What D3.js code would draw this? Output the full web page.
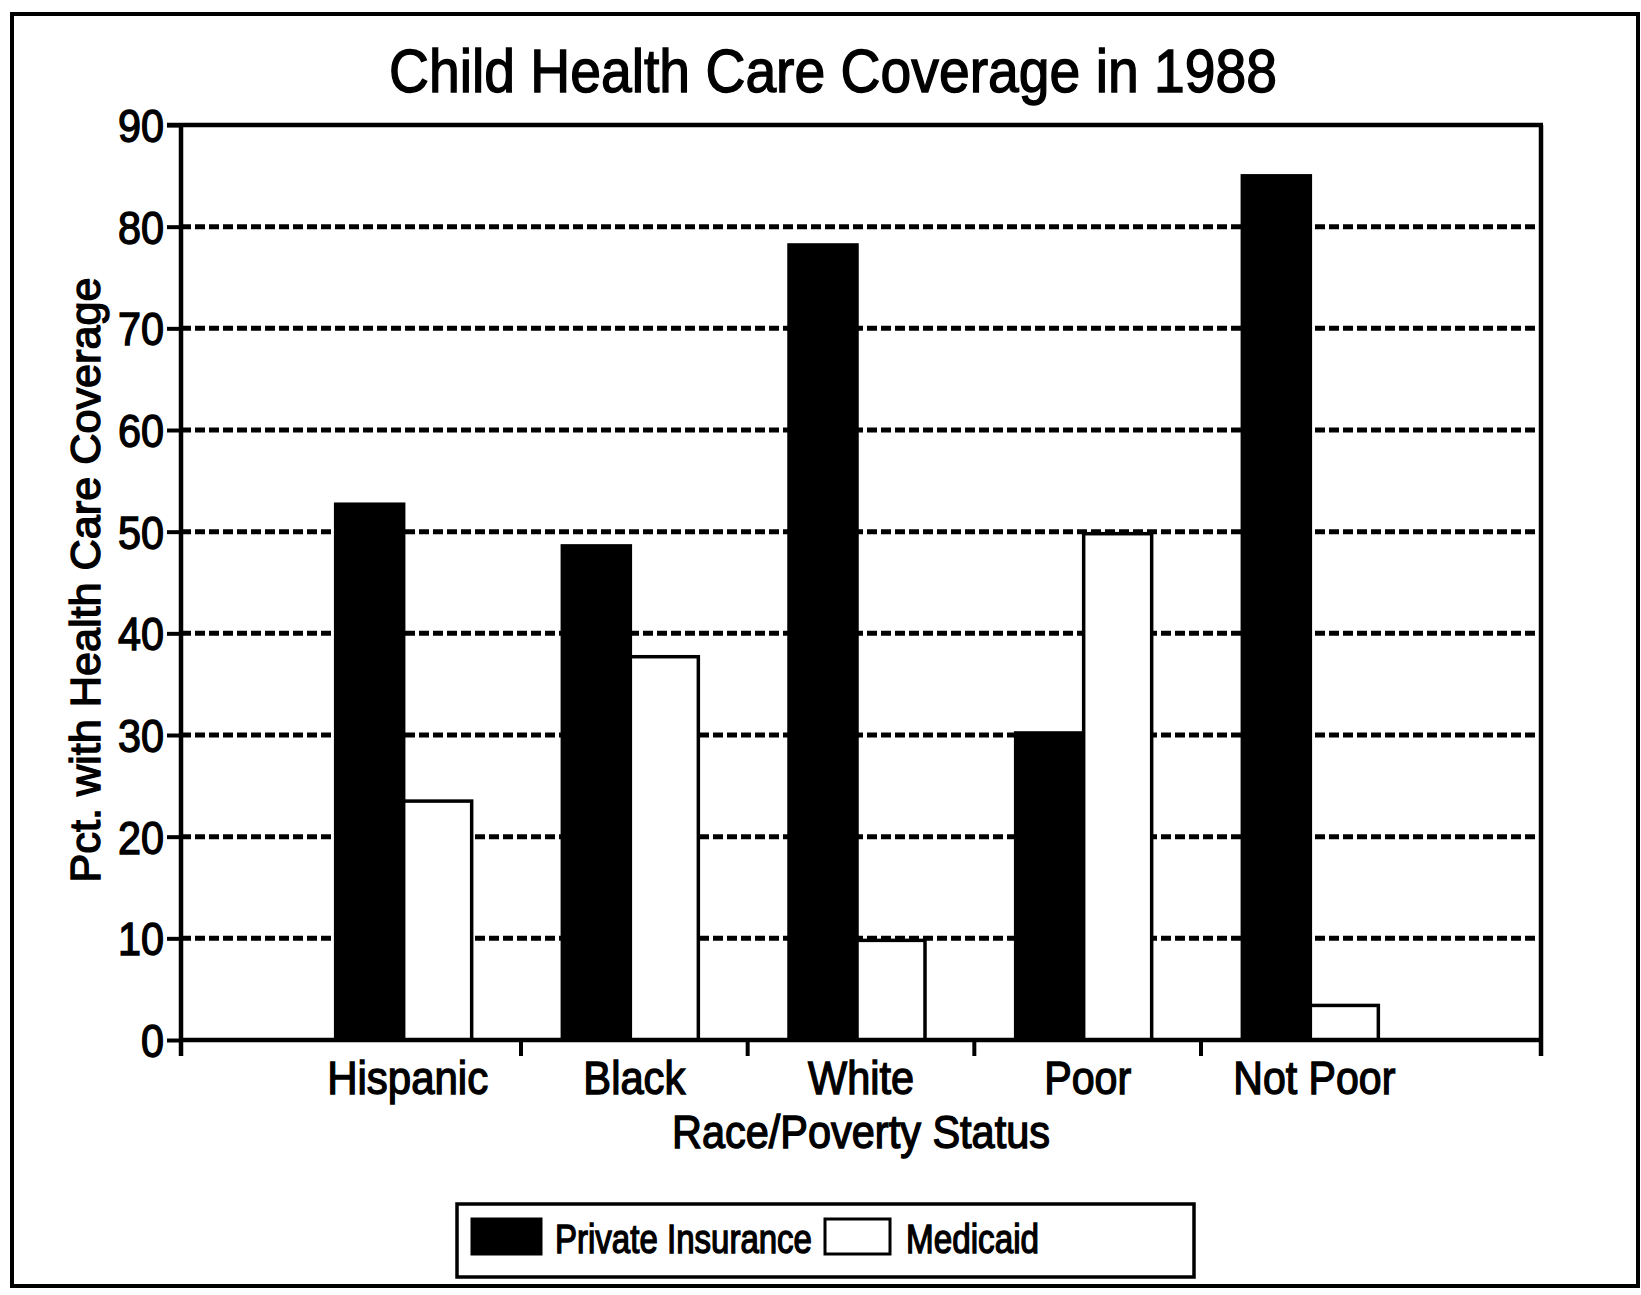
<!DOCTYPE html>
<html>
<head>
  <meta charset="utf-8">
  <script src="https://d3js.org/d3.v7.min.js"></script>
  <style>
    body { margin: 0; background: #fff; }
    text { font-family: "Liberation Sans", Arial, Helvetica, sans-serif; fill: #000; stroke: #000; stroke-width: 1.4px; }
  </style>
</head>
<body>
<script>
  // data
  var categories = ["Hispanic", "Black", "White", "Poor", "Not Poor"];
  var seriesNames = ["Private Insurance", "Medicaid"];
  var privateIns = [52.7, 48.6, 78.2, 30.2, 85.0];
  var medicaid = [23.5, 37.7, 9.8, 49.8, 3.4];
  var yTicks = [0, 10, 20, 30, 40, 50, 60, 70, 80, 90];
  var gridTicks = [10, 20, 30, 40, 50, 60, 70, 80];

  var W = 1641, H = 1295;
  var plotL = 181, plotR = 1541, plotT = 125, plotB = 1040;

  var rows = categories.map(function (c, i) {
    return { cat: c, values: [
      { s: seriesNames[0], v: privateIns[i] },
      { s: seriesNames[1], v: medicaid[i] }
    ] };
  });

  var svg = d3.select("body").append("svg")
      .attr("width", W)
      .attr("height", H);

  svg.append("rect").attr("width", W).attr("height", H).attr("fill", "#fff");

  // outer frame
  svg.append("rect")
      .attr("x", 12).attr("y", 14)
      .attr("width", 1626).attr("height", 1272)
      .attr("fill", "none").attr("stroke", "#000").attr("stroke-width", 4);

  function squeeze(sel, w) {
    sel.attr("textLength", w).attr("lengthAdjust", "spacingAndGlyphs");
  }

  var x = d3.scaleBand().domain(categories).range([plotL, plotR])
      .paddingInner(0).paddingOuter(0.5);
  var xs = d3.scaleBand().domain(seriesNames).range([-72, 64]);
  var y = d3.scaleLinear().domain([0, 90]).range([plotB, plotT]);

  // title
  svg.append("text")
      .attr("x", 833).attr("y", 92)
      .attr("text-anchor", "middle")
      .style("font-size", "62px")
      .text("Child Health Care Coverage in 1988")
      .call(squeeze, 888);

  // dotted gridlines
  svg.append("g").selectAll("line")
    .data(gridTicks)
    .enter().append("line")
      .attr("x1", plotL).attr("x2", plotR)
      .attr("y1", function (d) { return y(d); })
      .attr("y2", function (d) { return y(d); })
      .attr("stroke", "#000")
      .attr("stroke-width", 5)
      .attr("stroke-dasharray", "10,4");

  // bars
  var groups = svg.append("g").selectAll("g")
    .data(rows)
    .enter().append("g")
      .attr("transform", function (d) {
        return "translate(" + (x(d.cat) + x.bandwidth() / 2) + ",0)";
      });

  groups.selectAll("rect")
    .data(function (d) { return d.values; })
    .enter().append("rect")
      .attr("x", function (d) { return xs(d.s); })
      .attr("width", xs.bandwidth())
      .attr("y", function (d) { return y(d.v); })
      .attr("height", function (d) { return plotB - y(d.v); })
      .attr("fill", function (d) { return d.s === seriesNames[0] ? "#000" : "#fff"; })
      .attr("stroke", "#000")
      .attr("stroke-width", 3.5);

  // y axis
  var yAxis = svg.append("g")
      .attr("transform", "translate(" + plotL + ",0)")
      .call(d3.axisLeft(y).tickValues(yTicks).tickSize(14).tickSizeOuter(0).tickPadding(3));
  yAxis.select(".domain").remove();
  yAxis.selectAll(".tick line").attr("stroke", "#000").attr("stroke-width", 4);
  yAxis.selectAll(".tick text")
      .style("font-size", "46px")
      .attr("dy", "0.36em")
      .each(function (d) { d3.select(this).call(squeeze, String(d).length * 23); });

  // x axis labels
  var xAxis = svg.append("g")
      .attr("transform", "translate(0," + plotB + ")")
      .call(d3.axisBottom(x).tickSize(0).tickPadding(0));
  xAxis.select(".domain").remove();
  var labelW = { "Hispanic": 161, "Black": 102, "White": 106, "Poor": 87, "Not Poor": 162 };
  xAxis.selectAll(".tick text")
      .attr("y", 54).attr("dy", 0)
      .style("font-size", "47px")
      .each(function (d) { d3.select(this).call(squeeze, labelW[d]); });

  // boundary ticks between categories
  svg.append("g").selectAll("line")
    .data(categories.slice(1))
    .enter().append("line")
      .attr("x1", function (d) { return x(d); })
      .attr("x2", function (d) { return x(d); })
      .attr("y1", plotB).attr("y2", plotB + 16)
      .attr("stroke", "#000").attr("stroke-width", 4);

  // plot frame
  var frame = svg.append("g").attr("fill", "none").attr("stroke", "#000").attr("stroke-width", 4.5);
  frame.append("line").attr("x1", plotL - 14).attr("x2", plotR + 2).attr("y1", plotT).attr("y2", plotT);
  frame.append("line").attr("x1", plotL).attr("x2", plotL).attr("y1", plotT).attr("y2", plotB + 16);
  frame.append("line").attr("x1", plotR).attr("x2", plotR).attr("y1", plotT).attr("y2", plotB + 16);
  frame.append("line").attr("x1", plotL).attr("x2", plotR).attr("y1", plotB).attr("y2", plotB);

  // axis titles
  svg.append("text")
      .attr("x", 861).attr("y", 1148)
      .attr("text-anchor", "middle")
      .style("font-size", "46px")
      .text("Race/Poverty Status")
      .call(squeeze, 378);

  svg.append("text")
      .attr("transform", "translate(100,580) rotate(-90)")
      .attr("text-anchor", "middle")
      .style("font-size", "43px")
      .text("Pct. with Health Care Coverage")
      .call(squeeze, 605);

  // legend
  var legend = svg.append("g");
  legend.append("rect")
      .attr("x", 457).attr("y", 1204)
      .attr("width", 737).attr("height", 73)
      .attr("fill", "#fff").attr("stroke", "#000").attr("stroke-width", 3.5);

  var legendItems = [
    { s: seriesNames[0], sx: 472, sw: 69, tx: 555, tw: 257 },
    { s: seriesNames[1], sx: 825, sw: 65, tx: 906, tw: 133 }
  ];
  var li = legend.selectAll("g.item")
    .data(legendItems)
    .enter().append("g").attr("class", "item");
  li.append("rect")
      .attr("x", function (d) { return d.sx; })
      .attr("y", 1219)
      .attr("width", function (d) { return d.sw; })
      .attr("height", 35)
      .attr("fill", function (d) { return d.s === seriesNames[0] ? "#000" : "#fff"; })
      .attr("stroke", "#000").attr("stroke-width", 3);
  li.append("text")
      .attr("x", function (d) { return d.tx; })
      .attr("y", 1253)
      .style("font-size", "40px")
      .text(function (d) { return d.s; })
      .each(function (d) { d3.select(this).call(squeeze, d.tw); });
</script>
</body>
</html>
